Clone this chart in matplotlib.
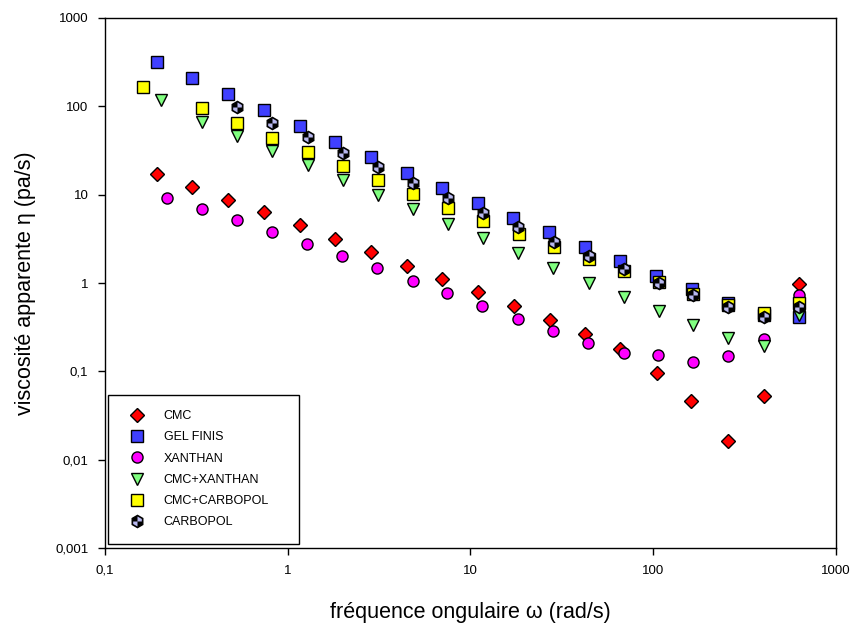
import matplotlib
matplotlib.use("Agg")
import matplotlib.pyplot as plt
from matplotlib.lines import Line2D
from matplotlib.path import Path
from matplotlib.ticker import FixedLocator, FuncFormatter, NullLocator

plt.rcParams['font.family'] = ['Liberation Sans', 'DejaVu Sans']

# ---- data ----
freq_cmc = [0.192, 0.30, 0.473, 0.741, 1.16, 1.82, 2.85, 4.48, 7.02, 10.95, 17.2, 27.1, 42.4, 66.1, 104.7, 161, 255, 402, 628]
visc_cmc = [17.0, 12.3, 8.69, 6.31, 4.49, 3.17, 2.25, 1.57, 1.12, 0.783, 0.547, 0.38, 0.266, 0.177, 0.0955, 0.046, 0.0163, 0.052, 0.964]

freq_gel = [0.192, 0.30, 0.473, 0.741, 1.16, 1.82, 2.85, 4.48, 7.02, 10.95, 17.1, 26.9, 42.2, 66.1, 104, 163, 255, 403, 628]
visc_gel = [315, 209, 138, 91, 59.8, 39.5, 26.7, 17.7, 11.8, 8.09, 5.48, 3.77, 2.53, 1.77, 1.21, 0.86, 0.597, 0.43, 0.414]

freq_xan = [0.2176, 0.338, 0.525, 0.821, 1.27, 1.99, 3.09, 4.83, 7.47, 11.6, 18.1, 28.2, 44.1, 68.9, 106.6, 165.5, 258, 403, 625]
visc_xan = [9.22, 6.92, 5.15, 3.80, 2.76, 2.02, 1.46, 1.06, 0.762, 0.547, 0.394, 0.285, 0.212, 0.162, 0.155, 0.126, 0.148, 0.233, 0.724]

freq_cmcxan = [0.202, 0.3405, 0.528, 0.823, 1.29, 2.00, 3.12, 4.84, 7.53, 11.7, 18.3, 28.4, 44.4, 69.3, 107.5, 166, 258, 404, 630]
visc_cmcxan = [118, 67, 46.1, 31.2, 21.5, 14.6, 10.0, 6.8, 4.64, 3.21, 2.16, 1.48, 1.0, 0.69, 0.48, 0.334, 0.238, 0.193, 0.43]

freq_cmccarb = [0.162, 0.3405, 0.528, 0.823, 1.29, 2.00, 3.12, 4.84, 7.53, 11.7, 18.4, 28.6, 44.5, 69.3, 107.5, 166, 258, 404, 630]
visc_cmccarb = [167, 94.9, 65.2, 44.0, 30.4, 21.1, 14.5, 10.2, 7.05, 5.06, 3.55, 2.57, 1.85, 1.37, 1.03, 0.76, 0.57, 0.46, 0.60]

freq_carb = [0.528, 0.823, 1.29, 2.00, 3.12, 4.84, 7.53, 11.7, 18.3, 28.5, 44.4, 69.3, 107.5, 166, 258, 404, 630]
visc_carb = [99, 65.2, 44.6, 29.9, 20.4, 13.6, 9.08, 6.24, 4.27, 2.93, 2.03, 1.43, 1.0, 0.724, 0.53, 0.414, 0.53]

labels = ["CMC", "GEL FINIS", "XANTHAN", "CMC+XANTHAN", "CMC+CARBOPOL", "CARBOPOL"]
yticks = [0.001, 0.01, 0.1, 1, 10, 100, 1000]
xticks = [0.1, 1, 10, 100, 1000]

# ---- figure ----
fig = plt.figure(figsize=(8.53, 6.41), dpi=100)
ax = fig.add_axes([105/853, 1-548/641, (836-105)/853, (548-18)/641])
ax.set_xscale('log')
ax.set_yscale('log')
ax.set_xlim(0.1, 1000)
ax.set_ylim(0.001, 1000)

ms = 8.0
common = dict(linestyle='none', markeredgecolor='black', markeredgewidth=1.0)
h_cmc, = ax.plot(freq_cmc, visc_cmc, marker='D', markersize=ms*0.85, markerfacecolor='#ff0000', **common)
h_gel, = ax.plot(freq_gel, visc_gel, marker='s', markersize=ms, markerfacecolor='#4040ff', **common)
h_xan, = ax.plot(freq_xan, visc_xan, marker='o', markersize=ms, markerfacecolor='#ff00ff', **common)
h_cx, = ax.plot(freq_cmcxan, visc_cmcxan, marker='v', markersize=ms*1.05, markerfacecolor='#80ff80', **common)
h_cc, = ax.plot(freq_cmccarb, visc_cmccarb, marker='s', markersize=ms, markerfacecolor='#ffff00', **common)

quad_path = Path([(0, 0), (0, 1), (0.866, 0.5), (0.866, 0), (0, 0),
                  (0, 0), (0, -1), (-0.866, -0.5), (-0.866, 0), (0, 0)],
                 [Path.MOVETO, Path.LINETO, Path.LINETO, Path.LINETO, Path.CLOSEPOLY,
                  Path.MOVETO, Path.LINETO, Path.LINETO, Path.LINETO, Path.CLOSEPOLY])
h_carb1, = ax.plot(freq_carb, visc_carb, marker='h', markersize=ms*1.1, markerfacecolor='black',
                   linestyle='none', markeredgecolor='black', markeredgewidth=1.0)
h_carb2, = ax.plot(freq_carb, visc_carb, marker=quad_path, markersize=ms*0.9, markerfacecolor='#b8b8f0',
                   linestyle='none', markeredgewidth=0)

# ---- axes styling ----
for sp in ax.spines.values():
    sp.set_linewidth(1.0)
ax.xaxis.set_major_locator(FixedLocator(xticks))
ax.yaxis.set_major_locator(FixedLocator(yticks))
ax.xaxis.set_minor_locator(NullLocator())
ax.yaxis.set_minor_locator(NullLocator())

def comma_fmt(v, pos):
    s = ('%g' % v)
    if 'e' in s:
        s = ('%.3f' % v).rstrip('0')
    return s.replace('.', ',')

ax.xaxis.set_major_formatter(FuncFormatter(comma_fmt))
ax.yaxis.set_major_formatter(FuncFormatter(comma_fmt))
ax.tick_params(axis='both', which='major', direction='out', length=5, width=1,
               labelsize=9.5, top=False, right=False, pad=7)

ax.set_xlabel("fréquence ongulaire ω (rad/s)", fontsize=15.5, labelpad=18)
ax.set_ylabel("viscosité apparente η (pa/s)", fontsize=15.5, labelpad=14)

leg = ax.legend([h_cmc, h_gel, h_xan, h_cx, h_cc, (h_carb1, h_carb2)], labels,
                loc='lower left', bbox_to_anchor=(0.004, 0.0075, 0.262, 0.28),
                mode='expand', borderaxespad=0, fontsize=9, frameon=True,
                fancybox=False, edgecolor='black', framealpha=1,
                handletextpad=1.0, labelspacing=0.74, borderpad=1.25,
                handlelength=2.2)
leg.get_frame().set_linewidth(1.0)

fig.savefig("out.png", dpi=100)
